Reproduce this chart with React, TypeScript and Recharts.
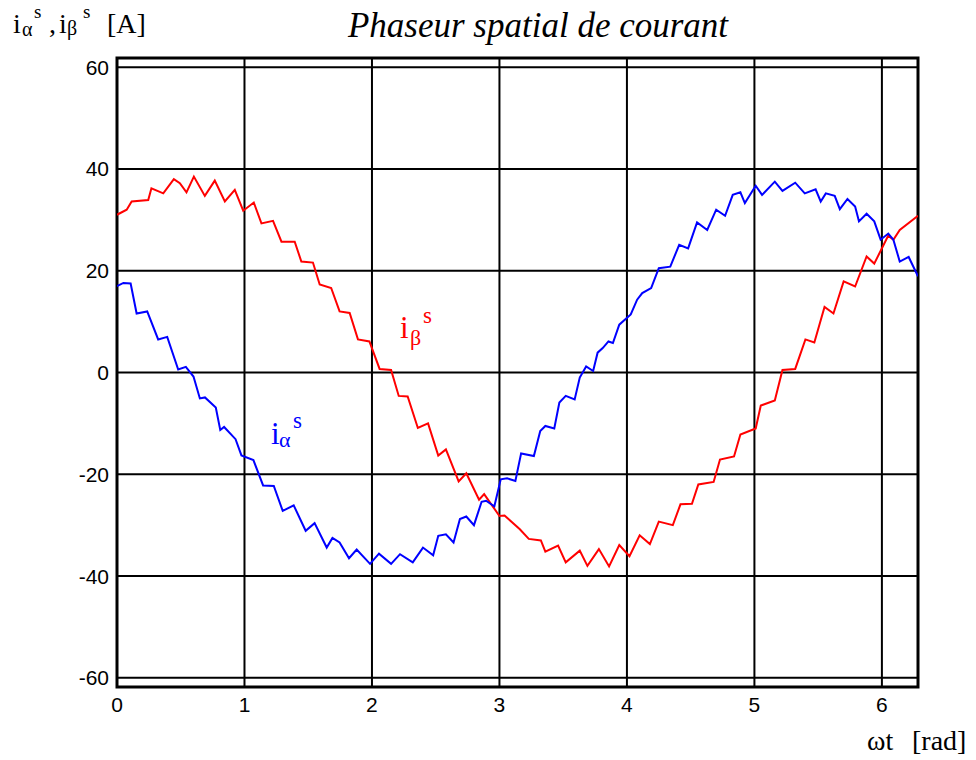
import React from "react";
import { LineChart, Line, XAxis, YAxis, CartesianGrid, ReferenceArea } from "recharts";

const TWO_PI = 2 * Math.PI;
const xTicks = [0, 1, 2, 3, 4, 5, 6];
const yTicks = [-60, -40, -20, 0, 20, 40, 60];

const betaT = [0, 0.076, 0.115, 0.245, 0.27, 0.363, 0.446, 0.493, 0.545, 0.603, 0.689, 0.767, 0.846, 0.924, 0.99, 1.073, 1.133, 1.224, 1.29, 1.394, 1.446, 1.537, 1.59, 1.68, 1.746, 1.825, 1.89, 1.98, 2.06, 2.15, 2.21, 2.28, 2.36, 2.44, 2.52, 2.58, 2.68, 2.74, 2.84, 2.88, 3.0, 3.04, 3.16, 3.23, 3.325, 3.36, 3.46, 3.52, 3.63, 3.69, 3.78, 3.86, 3.94, 4.02, 4.1, 4.18, 4.25, 4.36, 4.42, 4.51, 4.56, 4.68, 4.73, 4.84, 4.89, 5.01, 5.05, 5.16, 5.22, 5.32, 5.4, 5.47, 5.55, 5.62, 5.7, 5.79, 5.88, 5.94, 6.05, 6.09, 6.14, 6.283];
const betaV = [31, 32, 33.6, 33.9, 36.2, 35.2, 38, 37.2, 35.4, 38.5, 34.7, 37.7, 33.6, 35.9, 31.8, 33.4, 29.3, 29.8, 25.7, 25.7, 21.8, 21.6, 17.3, 16.6, 12, 11.7, 6.5, 6.1, 0.7, 0.5, -4.6, -4.7, -10.9, -10, -16.3, -15.1, -21.4, -19.8, -25, -23.9, -28.2, -28.1, -30.8, -32.7, -33, -35.2, -34, -37.3, -35, -38, -34.7, -38.1, -33.9, -36.1, -32, -33.7, -29.3, -30, -25.9, -25.8, -22, -21.5, -17.1, -16.5, -12.2, -11, -6.5, -5.5, 0.5, 0.7, 6.5, 5.9, 12.9, 11.6, 17.9, 16.9, 22.8, 21.4, 26.9, 26.1, 28, 30.8];

const alphaT = [0, 0.05, 0.107, 0.154, 0.237, 0.323, 0.394, 0.48, 0.54, 0.6, 0.65, 0.69, 0.775, 0.81, 0.84, 0.93, 0.976, 1.07, 1.146, 1.23, 1.3, 1.386, 1.48, 1.55, 1.645, 1.69, 1.746, 1.82, 1.88, 1.985, 2.055, 2.15, 2.22, 2.32, 2.4, 2.48, 2.52, 2.58, 2.64, 2.69, 2.74, 2.8, 2.86, 2.895, 2.96, 3.01, 3.06, 3.125, 3.17, 3.27, 3.32, 3.36, 3.43, 3.47, 3.52, 3.59, 3.63, 3.68, 3.735, 3.77, 3.81, 3.855, 3.89, 3.94, 4.03, 4.08, 4.12, 4.19, 4.25, 4.34, 4.41, 4.48, 4.55, 4.63, 4.7, 4.77, 4.83, 4.89, 4.925, 5.01, 5.06, 5.16, 5.22, 5.32, 5.395, 5.48, 5.52, 5.56, 5.63, 5.67, 5.73, 5.79, 5.82, 5.88, 5.94, 5.99, 6.05, 6.09, 6.14, 6.21, 6.283];
const alphaV = [17, 17.6, 17.5, 11.6, 12, 6.5, 7, 0.6, 1.1, -0.8, -5.1, -4.9, -6.9, -11.3, -10.7, -13.1, -16.3, -17.2, -22.2, -22.3, -27.2, -26.1, -31.1, -29.6, -34.4, -32.5, -33.4, -36.5, -34.8, -37.6, -35.6, -37.6, -35.7, -37.3, -34.4, -35.9, -32.1, -31.8, -33.4, -28.8, -28.3, -30, -25.4, -25.2, -26.3, -21, -20.8, -21.3, -15.9, -16.4, -11.5, -10.5, -11, -5.9, -4.6, -5.3, -1, 1.2, 0.3, 3.9, 4.8, 6.1, 5.8, 9.4, 11.4, 14.3, 15.6, 16.6, 20.5, 20.8, 25.1, 24.4, 29.5, 28, 32, 30.8, 34.9, 35.4, 33.3, 36.7, 34.9, 37.5, 35.7, 37.3, 35.2, 36, 33.6, 35.2, 34.7, 32.1, 34.1, 32.6, 29.7, 31.2, 29.7, 26.1, 27.3, 26.1, 21.8, 22.7, 18.9];

const betaData = betaT.map((t, i) => ({ t, v: betaV[i] }));
const alphaData = alphaT.map((t, i) => ({ t, v: alphaV[i] }));

const serif = "'Liberation Serif', 'Times New Roman', serif";
const sans = "'Liberation Sans', Arial, sans-serif";

export default function App() {
  return (
    <div style={{ position: "absolute", left: 0, top: 0, width: 976, height: 760, background: "#fff" }}>
      <LineChart width={976} height={760} margin={{ top: 58, right: 58, bottom: 43, left: 57 }}>
        <CartesianGrid stroke="#000" strokeWidth={2} horizontalValues={yTicks} verticalValues={xTicks} />
        <XAxis
          type="number"
          dataKey="t"
          domain={[0, TWO_PI]}
          ticks={xTicks}
          allowDataOverflow
          height={30}
          axisLine={false}
          tickLine={false}
          tickSize={6}
          tickMargin={4}
          tick={{ fill: "#000", fontSize: 21, fontFamily: sans }}
        />
        <YAxis
          type="number"
          domain={[-61.8, 61.8]}
          ticks={yTicks}
          allowDataOverflow
          width={60}
          axisLine={false}
          tickLine={false}
          tickSize={6}
          tickMargin={2}
          tick={{ fill: "#000", fontSize: 21, fontFamily: sans }}
        />
        <ReferenceArea x1={0} x2={TWO_PI} y1={-61.8} y2={61.8} fill="none" fillOpacity={0} stroke="#000" strokeWidth={3} ifOverflow="extendDomain" />
        <Line data={betaData} dataKey="v" type="linear" stroke="#ff0000" strokeWidth={2} dot={false} isAnimationActive={false} />
        <Line data={alphaData} dataKey="v" type="linear" stroke="#0000ff" strokeWidth={2} dot={false} isAnimationActive={false} />
      </LineChart>
      <svg width={976} height={760} style={{ position: "absolute", left: 0, top: 0, pointerEvents: "none" }}>
        <g fontFamily={serif} fill="#000">
          <text x={13} y={33} fontSize={28}>i</text>
          <text x={22} y={36} fontSize={20}>α</text>
          <text x={34} y={18} fontSize={19}>s</text>
          <text x={49} y={33} fontSize={28}>,</text>
          <text x={59} y={33} fontSize={28}>i</text>
          <text x={67} y={35} fontSize={20}>β</text>
          <text x={83} y={18} fontSize={19}>s</text>
          <text x={107} y={33} fontSize={28}>[A]</text>
          <text x={538} y={37} fontSize={35} fontStyle="italic" textAnchor="middle">Phaseur spatial de courant</text>
          <text x={867} y={750} fontSize={28}>ωt</text>
          <text x={912} y={750} fontSize={28}>[rad]</text>
        </g>
        <g fontFamily={serif} fill="#ff0000">
          <text x={400} y={338} fontSize={31}>i</text>
          <text x={410} y={345} fontSize={22}>β</text>
          <text x={423} y={323} fontSize={23}>s</text>
        </g>
        <g fontFamily={serif} fill="#0000ff">
          <text x={271} y={444} fontSize={31}>i</text>
          <text x={279} y={447} fontSize={22}>α</text>
          <text x={293} y={428} fontSize={23}>s</text>
        </g>
      </svg>
    </div>
  );
}
